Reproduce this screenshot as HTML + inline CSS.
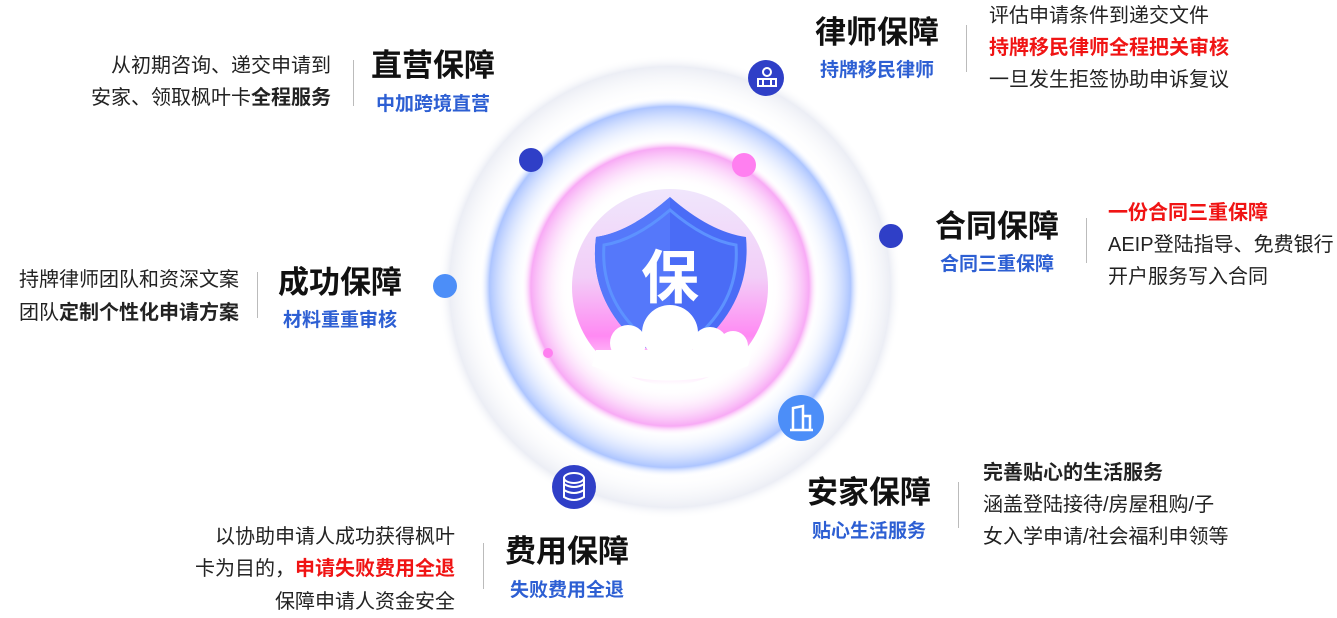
<!DOCTYPE html>
<html><head><meta charset="utf-8"><style>
html,body{margin:0;padding:0;background:#fff;}
body{width:1337px;height:618px;position:relative;overflow:hidden;font-family:"Liberation Sans","Noto Sans CJK SC",sans-serif;}
.a{position:absolute;white-space:nowrap;line-height:1;}
.t{font-size:31px;font-weight:700;color:#111;}
.s{font-size:19px;font-weight:700;color:#2d5fd3;}
.b{font-size:20px;color:#222;}
.r{text-align:right;}
.bold{font-weight:700;}
.red{color:#f01414;font-weight:700;}
.d{position:absolute;width:1px;background:#bbb;}
</style></head><body>
<svg width="1337" height="618" style="position:absolute;left:0;top:0">
<defs>
<radialGradient id="g1" cx="670" cy="287" r="232" gradientUnits="userSpaceOnUse">
<stop offset="0.8" stop-color="#fff" stop-opacity="0"/><stop offset="0.95" stop-color="#eceef5"/><stop offset="1" stop-color="#fff" stop-opacity="0"/></radialGradient>
<radialGradient id="g2" cx="670" cy="287" r="190" gradientUnits="userSpaceOnUse">
<stop offset="0.75" stop-color="#fff" stop-opacity="0"/><stop offset="0.95" stop-color="#adc5ff"/><stop offset="1" stop-color="#fff" stop-opacity="0"/></radialGradient>
<radialGradient id="g3" cx="670" cy="287" r="148" gradientUnits="userSpaceOnUse">
<stop offset="0.68" stop-color="#fff" stop-opacity="0"/><stop offset="0.94" stop-color="#f8aaf5"/><stop offset="1" stop-color="#fff" stop-opacity="0"/></radialGradient>
<linearGradient id="g4" x1="0" y1="0" x2="0" y2="1">
<stop offset="0" stop-color="#ece0fb"/><stop offset="0.45" stop-color="#efc2f6"/><stop offset="0.75" stop-color="#ff6cf0"/><stop offset="1" stop-color="#fff"/></linearGradient>
</defs>
<circle cx="670" cy="287" r="232" fill="url(#g1)"/>
<circle cx="670" cy="287" r="190" fill="url(#g2)"/>
<circle cx="670" cy="287" r="148" fill="url(#g3)"/>
<circle cx="670" cy="287" r="98" fill="url(#g4)" opacity="0.8"/>
<path d="M670 197 Q710 232 746 237 Q752 300 700 345 L670 360 L640 345 Q588 300 596 237 Q630 232 670 197Z" fill="#4a6cf6"/>
<path d="M670 197 Q630 232 596 237 Q588 300 640 345 L670 360Z" fill="#5578fa"/>
<path d="M670 210 Q705 240 736 245 Q740 300 695 338 L670 350 L645 338 Q600 300 604 245 Q635 240 670 210Z" fill="none" stroke="#5d92ff" stroke-width="3"/>
<text x="670" y="298" font-size="58" font-weight="700" fill="#fff" text-anchor="middle" font-family="Liberation Sans,Noto Sans CJK SC,sans-serif">保</text>
<g fill="#fff">
<circle cx="628" cy="343" r="18"/><circle cx="670" cy="333" r="28"/><circle cx="710" cy="345" r="18"/><circle cx="733" cy="346" r="15"/>
<path d="M596 350 H752 L748 366 Q670 395 592 366 Z"/>
</g>
<circle cx="531" cy="160" r="12" fill="#2f3fc7"/>
<circle cx="744" cy="165" r="12" fill="#ff7ff0"/>
<circle cx="891" cy="236" r="12" fill="#2f3fc7"/>
<circle cx="445" cy="286" r="12" fill="#4c8ef8"/>
<circle cx="548" cy="353" r="5" fill="#ff7ff0"/>
<circle cx="766" cy="78" r="18" fill="#2f3fc7"/>
<g fill="none" stroke="#fff" stroke-width="2"><circle cx="767" cy="72" r="4"/><path d="M758 86 V79 H776 V86 Z M763 79 V86 M771 79 V86"/></g>
<circle cx="801" cy="418" r="23" fill="#4c8ef8"/>
<g fill="none" stroke="#fff" stroke-width="2.5"><path d="M790 430 H813 M793 430 V408 L803 406 V430 M803 416 H810 V430"/></g>
<circle cx="574" cy="487" r="22" fill="#2f3fc7"/>
<g fill="none" stroke="#fff" stroke-width="2"><ellipse cx="574" cy="478" rx="10" ry="5"/><path d="M564 478 V497 Q574 503 584 497 V478 M564 484 Q574 490 584 484 M564 490 Q574 496 584 490"/></g>
</svg>

<div class="a t" style="left:371px;top:50px">直营保障</div>
<div class="a s" style="left:376px;top:95px">中加跨境直营</div>
<div class="d" style="left:353px;top:60px;height:46px"></div>
<div class="a b r" style="right:1006px;top:56px">从初期咨询、递交申请到</div>
<div class="a b r" style="right:1006px;top:88px">安家、领取枫叶卡<span class="bold">全程服务</span></div>

<div class="a t" style="left:815px;top:17px">律师保障</div>
<div class="a s" style="left:820px;top:61px">持牌移民律师</div>
<div class="d" style="left:966px;top:25px;height:47px"></div>
<div class="a b" style="left:989px;top:6px">评估申请条件到递交文件</div>
<div class="a b red" style="left:989px;top:38px">持牌移民律师全程把关审核</div>
<div class="a b" style="left:989px;top:70px">一旦发生拒签协助申诉复议</div>

<div class="a t" style="left:935px;top:211px">合同保障</div>
<div class="a s" style="left:940px;top:255px">合同三重保障</div>
<div class="d" style="left:1086px;top:218px;height:45px"></div>
<div class="a b red" style="left:1108px;top:203px">一份合同三重保障</div>
<div class="a b" style="left:1108px;top:235px">AEIP登陆指导、免费银行</div>
<div class="a b" style="left:1108px;top:267px">开户服务写入合同</div>

<div class="a t" style="left:278px;top:267px">成功保障</div>
<div class="a s" style="left:283px;top:311px">材料重重审核</div>
<div class="d" style="left:257px;top:272px;height:46px"></div>
<div class="a b" style="left:19px;top:270px">持牌律师团队和资深文案</div>
<div class="a b" style="left:19px;top:303px">团队<span class="bold">定制个性化申请方案</span></div>

<div class="a t" style="left:807px;top:477px">安家保障</div>
<div class="a s" style="left:812px;top:522px">贴心生活服务</div>
<div class="d" style="left:958px;top:482px;height:46px"></div>
<div class="a b bold" style="left:983px;top:463px">完善贴心的生活服务</div>
<div class="a b" style="left:983px;top:495px">涵盖登陆接待/房屋租购/子</div>
<div class="a b" style="left:983px;top:527px">女入学申请/社会福利申领等</div>

<div class="a t" style="left:505px;top:536px">费用保障</div>
<div class="a s" style="left:510px;top:581px">失败费用全退</div>
<div class="d" style="left:483px;top:543px;height:46px"></div>
<div class="a b r" style="right:882px;top:527px">以协助申请人成功获得枫叶</div>
<div class="a b r" style="right:882px;top:559px">卡为目的，<span class="red">申请失败费用全退</span></div>
<div class="a b r" style="right:882px;top:592px">保障申请人资金安全</div>
</body></html>
